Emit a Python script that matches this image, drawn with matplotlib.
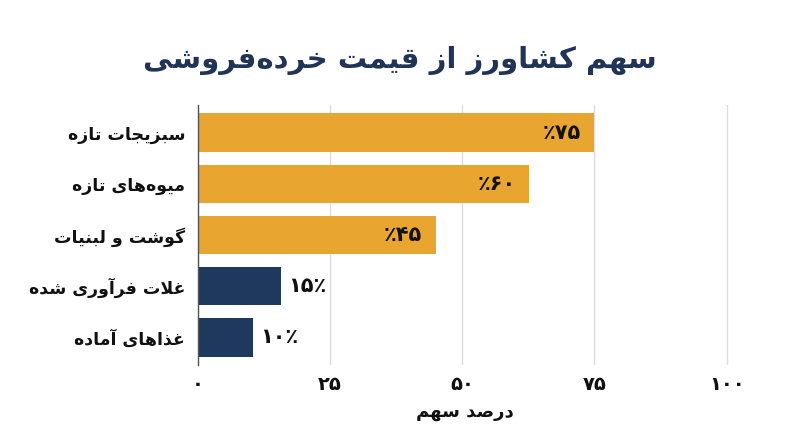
import matplotlib
matplotlib.use('Agg')
import matplotlib.pyplot as plt
import numpy as np

# data
categories = ['سبزیجات تازه', 'میوه‌های تازه', 'گوشت و لبنیات', 'غلات فرآوری شده', 'غذاهای آماده']
bar_values = [75, 62.7, 45, 15.8, 10.5]      # bar lengths as drawn
label_values = [75, 60, 45, 15, 10]          # numbers printed on the bars
bar_colors = ['#E8A530', '#E8A530', '#E8A530', '#1F385E', '#1F385E']
x_ticks = [0, 25, 50, 75, 100]
title = 'سهم کشاورز از قیمت خرده‌فروشی'
x_label = 'درصد سهم'

# --- tiny arabic/persian shaper (matplotlib has no text shaping) ---
# iso, fin, ini, med
FORMS = {
    'ا': (0xFE8D, 0xFE8E, None, None), 'آ': (0xFE81, 0xFE82, None, None),
    'ب': (0xFE8F, 0xFE90, 0xFE91, 0xFE92), 'ت': (0xFE95, 0xFE96, 0xFE97, 0xFE98),
    'ج': (0xFE9D, 0xFE9E, 0xFE9F, 0xFEA0), 'خ': (0xFEA5, 0xFEA6, 0xFEA7, 0xFEA8),
    'د': (0xFEA9, 0xFEAA, None, None), 'ذ': (0xFEAB, 0xFEAC, None, None),
    'ر': (0xFEAD, 0xFEAE, None, None), 'ز': (0xFEAF, 0xFEB0, None, None),
    'س': (0xFEB1, 0xFEB2, 0xFEB3, 0xFEB4), 'ش': (0xFEB5, 0xFEB6, 0xFEB7, 0xFEB8),
    'ص': (0xFEB9, 0xFEBA, 0xFEBB, 0xFEBC), 'غ': (0xFECD, 0xFECE, 0xFECF, 0xFED0),
    'ف': (0xFED1, 0xFED2, 0xFED3, 0xFED4), 'ق': (0xFED5, 0xFED6, 0xFED7, 0xFED8),
    'ل': (0xFEDD, 0xFEDE, 0xFEDF, 0xFEE0), 'م': (0xFEE1, 0xFEE2, 0xFEE3, 0xFEE4),
    'ن': (0xFEE5, 0xFEE6, 0xFEE7, 0xFEE8), 'ه': (0xFEE9, 0xFEEA, 0xFEEB, 0xFEEC),
    'و': (0xFEED, 0xFEEE, None, None), 'ی': (0xFBFC, 0xFBFD, 0xFBFE, 0xFBFF),
    'ک': (0xFB8E, 0xFB8F, 0xFB90, 0xFB91), 'گ': (0xFB92, 0xFB93, 0xFB94, 0xFB95),
    'LA': (0xFEFB, 0xFEFC, None, None), 'LAA': (0xFEF5, 0xFEF6, None, None),
}


def shape(text):
    text = text.replace('ي', 'ی').replace('ك', 'ک')
    toks = []
    i = 0
    while i < len(text):
        c = text[i]
        if c == 'ل' and i + 1 < len(text) and text[i + 1] in 'اآ':
            toks.append('LA' if text[i + 1] == 'ا' else 'LAA')
            i += 2
        else:
            toks.append(c)
            i += 1
    res = []
    for i, c in enumerate(toks):
        if c not in FORMS:
            res.append('' if c == '\u200c' else c)
            continue
        prev = toks[i - 1] if i > 0 else None
        nxt = toks[i + 1] if i + 1 < len(toks) else None
        jp = prev in FORMS and FORMS[prev][2] is not None
        jn = FORMS[c][2] is not None and nxt in FORMS
        iso, fin, ini, med = FORMS[c]
        if jp and jn:
            cp = med
        elif jp:
            cp = fin
        elif jn:
            cp = ini
        else:
            cp = iso
        res.append(chr(cp))
    return ''.join(res)[::-1]


def fa(n):
    return str(n).translate(str.maketrans('0123456789', '۰۱۲۳۴۵۶۷۸۹'))


plt.rcParams['font.family'] = ['DejaVu Sans']
W, H = 800, 447
fig = plt.figure(figsize=(W / 100, H / 100), dpi=100)
fig.patch.set_facecolor('white')

px = 5.292  # pixels per percent
ax = fig.add_axes([197.5 / W, 1 - 365 / H, 101 * px / W, 260 / H])

y = np.arange(len(categories))
ax.barh(y, bar_values, height=0.75, color=bar_colors, zorder=2)
ax.set_ylim(len(categories) - 0.463, -0.537)
ax.set_xlim(0, 101)

ax.set_xticks(x_ticks)
ax.set_xticklabels([fa(t) for t in x_ticks], fontsize=14, fontweight='bold', color='#111111')
ax.set_yticks(y)
ax.set_yticklabels([shape(c) for c in categories], fontsize=12.5, fontweight='bold', color='#111111')
ax.tick_params(axis='x', length=0, pad=7)
ax.tick_params(axis='y', length=0, pad=9)
ax.xaxis.grid(True, color='#dddddd', lw=1, zorder=0)
ax.set_axisbelow(True)
for s in ['top', 'right', 'bottom']:
    ax.spines[s].set_visible(False)
ax.spines['left'].set_color('#555555')
ax.spines['left'].set_linewidth(1)
ax.spines['left'].set_zorder(3)

ax.set_xlabel(shape(x_label), fontsize=13, fontweight='bold', color='#111111', labelpad=7)

for i, (v, lv, col) in enumerate(zip(bar_values, label_values, bar_colors)):
    if col == '#E8A530':
        ax.annotate('٪' + fa(lv), xy=(v, i), xytext=(-10, 0), textcoords='offset points',
                    ha='right', va='center', fontsize=15, fontweight='bold', color='#111111', zorder=4)
    else:
        ax.annotate(fa(lv) + '٪', xy=(v, i), xytext=(5, 0), textcoords='offset points',
                    ha='left', va='center', fontsize=15, fontweight='bold', color='#111111', zorder=4)

fig.text(0.5, 1 - 60 / H, shape(title), ha='center', va='center', fontsize=21,
         fontweight='bold', color='#1F3456')

fig.savefig('out.png', dpi=100, facecolor='white')
